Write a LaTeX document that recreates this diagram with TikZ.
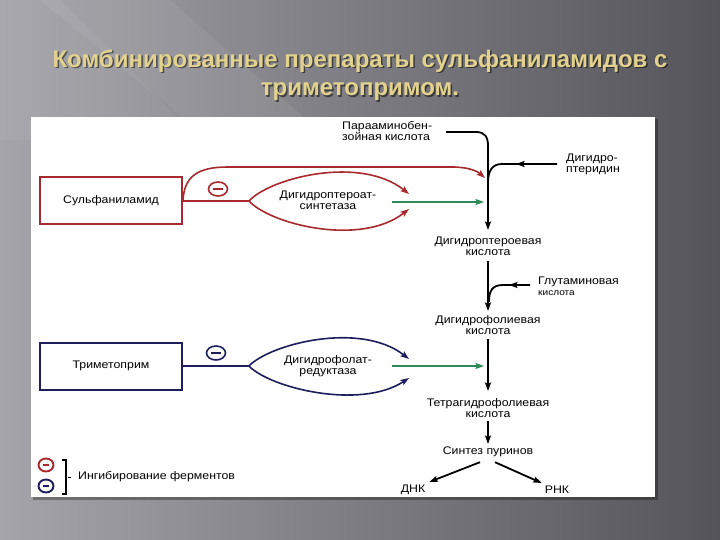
\documentclass[tikz,border=0pt]{standalone}
\usepackage{fontspec}
\setmainfont{Liberation Sans}
\newfontfamily\lab[FakeStretch=1.12]{Liberation Sans}
\usetikzlibrary{arrows.meta,decorations.markings,shapes.geometric}
\definecolor{bgL}{HTML}{A4A4AA}
\definecolor{bgR}{HTML}{54545A}
\definecolor{ttl}{HTML}{E2D28E}
\definecolor{sred}{HTML}{A82A2E}
\definecolor{tblue}{HTML}{1E1E5C}
\definecolor{agreen}{HTML}{2E8A58}
\begin{document}
\begin{tikzpicture}[x=1pt,y=-1pt,
  lbl/.style={font=\lab\fontsize{11}{11}\selectfont, align=center, inner sep=0pt},
  lbll/.style={lbl, align=left, anchor=west},
  ttlfont/.style={font=\bfseries\fontsize{24}{26}\selectfont, inner sep=0pt},
  box/.style={draw, line width=2pt, minimum width=142pt, minimum height=47pt, inner sep=0pt, font=\lab\fontsize{11}{11}\selectfont},
  tipA/.style={-{Stealth[length=8.5pt,width=6pt,inset=1.5pt]}},
  blk/.style={line width=1.8pt, black},
  redl/.style={line width=1.6pt, sred},
  bluel/.style={line width=1.6pt, tblue},
  grn/.style={line width=1.5pt, agreen, tipA},
  minus/.style={ellipse, draw=#1, line width=1.6pt, minimum width=19pt, minimum height=14pt, inner sep=0pt,
     path picture={\draw[#1, line width=1.6pt] ([xshift=4.5pt]path picture bounding box.west) -- ([xshift=-4.5pt]path picture bounding box.east);}},
  midarrow/.style={postaction={decorate}, decoration={markings, mark=at position #1 with {\arrow{Stealth[length=8.5pt,width=6pt,inset=1.5pt]}}}}
]
\useasboundingbox (0,0) rectangle (720,540);
% background
\fill[left color=bgL, right color=bgR] (0,0) rectangle (720,540);
\fill[white, opacity=0.06] (40,0) -- (170,0) -- (330,140) -- (210,140) -- cycle;
\fill[white, opacity=0.05] (0,0) -- (60,0) -- (200,140) -- (0,140) -- cycle;
% title
\node[ttlfont, text=black, opacity=0.5] at (361.5,62.5) {Комбинированные препараты сульфаниламидов с};
\node[ttlfont, text=black, opacity=0.5] at (361.5,93.5) {триметопримом.};
\node[ttlfont, text=ttl] (t1) at (360,61) {Комбинированные препараты сульфаниламидов с};
\node[ttlfont, text=ttl] (t2) at (360,92) {триметопримом.};
% panel
\fill[black, opacity=0.3] (33,119) rectangle (658,500);
\fill[white] (31,117) rectangle (655,497);

% boxes
\node[box, draw=sred] (sulf) at (111,201) {Сульфаниламид};
\node[box, draw=tblue] (trim) at (111,366) {Триметоприм};

% enzyme 1 (red lens)
\coordinate (l1tip) at (249,201);
\coordinate (l1u) at (409,194);
\coordinate (l1d) at (409,209);
\node[lbl] (dps) at (328,200) {Дигидроптероат-\\синтетаза};
\draw[redl] (sulf.east) -- (l1tip);
\draw[redl, tipA] (l1tip) .. controls (270,178) and (360,155) .. (l1u);
\draw[redl, tipA] (l1tip) .. controls (270,224) and (360,247) .. (l1d);
\node[minus=sred] (m1) at (218,189) {};

% enzyme 2 (blue lens)
\coordinate (l2tip) at (249,366);
\coordinate (l2u) at (409,359);
\coordinate (l2d) at (409,378);
\node[lbl] (dfr) at (328,366) {Дигидрофолат-\\редуктаза};
\draw[bluel] (trim.east) -- (l2tip);
\draw[bluel, tipA] (l2tip) .. controls (270,344) and (360,321) .. (l2u);
\draw[bluel, tipA] (l2tip) .. controls (270,388) and (360,410) .. (l2d);
\node[minus=tblue] (m2) at (216,353) {};

% main chain
\node[lbll] (paba) at (342,131) {Парааминобен-\\зойная кислота};
\node[lbll] (dpt) at (566,164) {Дигидро-\\птеридин};
\node[lbl] (dpa) at (488,246.5) {Дигидроптероевая\\кислота};
\node[lbll] (glu) at (538,286) {Глутаминовая\\{\fontsize{9}{9}\selectfont кислота}};
\node[lbl] (dfa) at (488,325.5) {Дигидрофолиевая\\кислота};
\node[lbl] (tfa) at (488,408.5) {Тетрагидрофолиевая\\кислота};
\node[lbl] (pur) at (488,452) {Синтез пуринов};
\node[lbl] (dna) at (413,490) {ДНК};
\node[lbl] (rna) at (557,490) {РНК};

\coordinate (pabaS) at (446,132);
\coordinate (j0) at (488,230);
\coordinate (j1) at (485,178);
\coordinate (j2) at (484,202);
\coordinate (dptS) at (557,164);
\coordinate (dptE) at (488,183);
\coordinate (gluS) at (530,285);
\coordinate (gluE) at (489,302);
\coordinate (j3) at (484,366);

\draw[blk, tipA] (pabaS) -- (476,132) .. controls (485,132) and (488,137) .. (488,146) -- (j0);
\draw[blk, midarrow=0.5] (dptS) -- (502,164) .. controls (492,164) and (488,171) .. (dptE);
\draw[redl, tipA] (sulf.east) .. controls (184,176) and (198,167) .. (228,167) -- (452,167) .. controls (468,167) and (477,171) .. (j1);
\draw[grn] (392,202) -- (j2);

\draw[blk, tipA] (dpa.south) ++(0,5) -- (488,311);
\draw[blk, midarrow=0.4] (gluS) -- (503,285) .. controls (492,285) and (489,291) .. (gluE);
\draw[blk, tipA] (dfa.south) ++(0,4) -- (488,391);
\draw[grn] (392,366) -- (j3);
\draw[blk, tipA] (tfa.south) ++(0,3) -- (488,444);
\draw[blk, tipA] ([xshift=-8pt,yshift=-5pt]pur.south) -- ([xshift=4pt,yshift=3pt]dna.north east);
\draw[blk, tipA] ([xshift=7pt,yshift=-5pt]pur.south) -- ([xshift=-3pt,yshift=3pt]rna.north west);

% legend
\node[minus=sred, minimum width=15pt, minimum height=13pt, line width=1.9pt] (lr) at (46,465) {};
\node[minus=tblue, minimum width=15pt, minimum height=13pt, line width=1.9pt] (lb) at (46,486) {};
\draw[line width=1.1pt] (62,460) -- (66,460) -- (66,494) -- (62,494);
\draw[line width=0.9pt] (68,477) -- (71,477);
\node[lbll] (leg) at (78,477) {Ингибирование ферментов};
\end{tikzpicture}
\end{document}
